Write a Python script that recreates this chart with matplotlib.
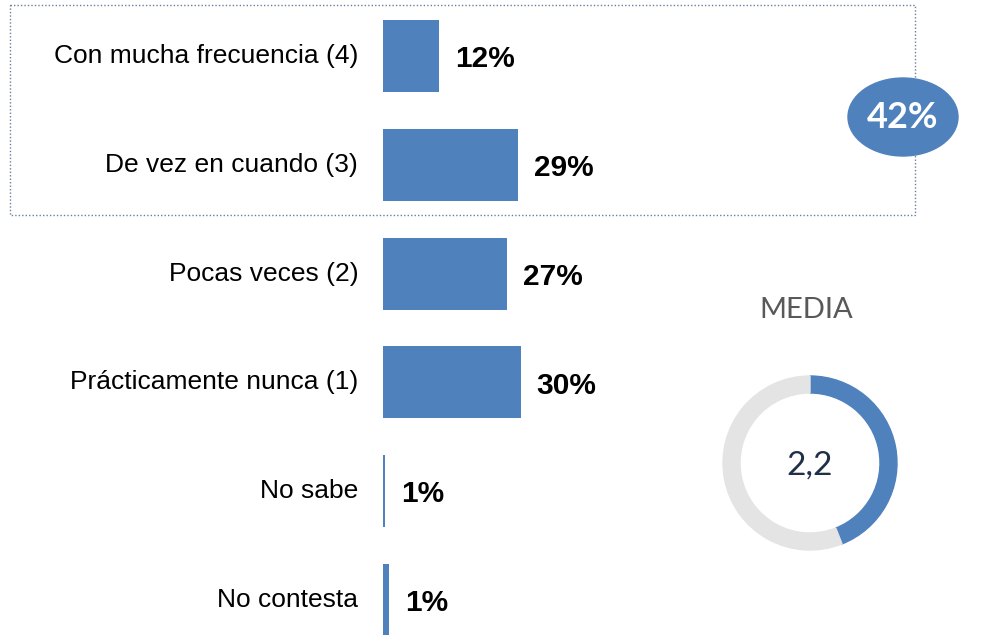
import matplotlib
matplotlib.use("Agg")
import matplotlib.pyplot as plt
from matplotlib.patches import Rectangle, Ellipse, Wedge

categories = ["Con mucha frecuencia (4)", "De vez en cuando (3)", "Pocas veces (2)",
              "Prácticamente nunca (1)", "No sabe", "No contesta"]
values = [12.2, 29.3, 26.9, 29.9, 0.5, 1.4]
value_labels = ["12%", "29%", "27%", "30%", "1%", "1%"]
top2_label = "42%"
media_value = 2.2
media_max = 5.0
media_label = "2,2"
media_title = "MEDIA"

BLUE = "#4f81bd"
W, H = 986, 635
fig = plt.figure(figsize=(W / 100, H / 100), dpi=100)

# Bar axes: x=0 at pixel 383, 4.6 px per %
ax = fig.add_axes([383 / W, 0, 460 / W, 1])
ax.set_xlim(0, 100)
y0, step = 56, 108.8
ax.set_ylim((H - y0) / step, -y0 / step)
ypos = list(range(len(categories)))
ax.barh(ypos, values, height=0.66, color=BLUE)
ax.axis("off")
for i, (cat, v, lab) in enumerate(zip(categories, values, value_labels)):
    ax.text(-5.4, i, cat, ha="right", va="center", fontsize=19,
            family="Liberation Sans", color="black", clip_on=False)
    ax.text(v + 3.5, i + 0.03, lab, ha="left", va="center", fontsize=21.5,
            family="Liberation Sans", fontweight="bold", color="black")

# Overlay axes in pixel coordinates
ov = fig.add_axes([0, 0, 1, 1])
ov.set_xlim(0, W)
ov.set_ylim(H, 0)
ov.axis("off")
ov.add_patch(Rectangle((10, 5), 905, 210, fill=False, linestyle=(0, (1, 1.5)),
                       linewidth=1, edgecolor="#6a7f9a"))
ov.add_patch(Ellipse((903, 117), 110, 78, color=BLUE))
ov.text(903, 118, top2_label, ha="center", va="center", color="white",
        fontsize=26, fontweight="bold", family="Lato")

ov.text(806, 310, media_title, ha="center", va="center", color="#595959",
        fontsize=21, family="Lato")
cx, cy, r, w = 810, 463, 87, 17
frac = media_value / media_max
end = -90 + 360 * frac
ov.add_patch(Wedge((cx, cy), r, -90, end, width=w, color=BLUE))
ov.add_patch(Wedge((cx, cy), r, end, 270, width=w, color="#e4e4e4"))
ov.text(cx, cy + 3, media_label, ha="center", va="center", color="#1f3048",
        fontsize=24, family="Lato")

fig.savefig("out.png", dpi=100)
